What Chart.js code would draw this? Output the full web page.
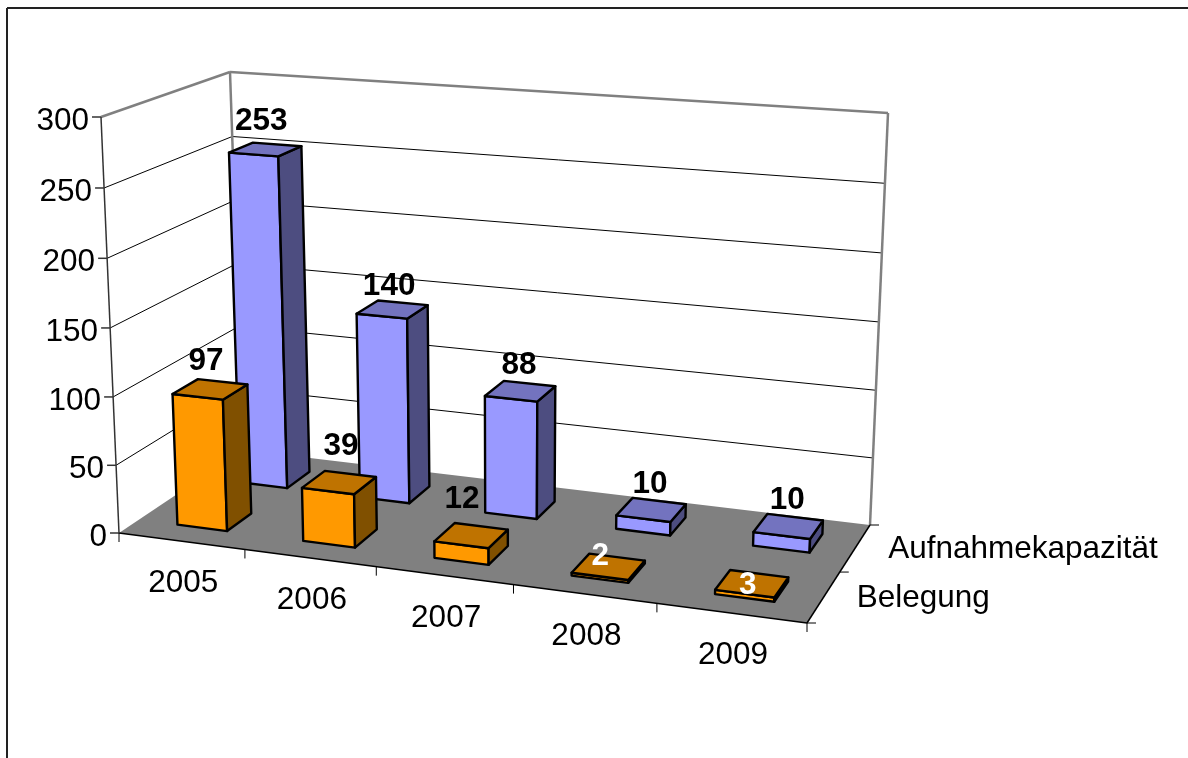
<!DOCTYPE html>
<html>
<head>
<meta charset="utf-8">
<title>Aufnahmekapazität und Belegung</title>
<script src="https://cdn.jsdelivr.net/npm/chart.js@4"></script>
<style>
  html, body { margin: 0; padding: 0; background: #fff; overflow: hidden; }
  canvas { display: block; }
</style>
</head>
<body>
<canvas id="chart" width="1188" height="758"></canvas>
<script>
// data
const years = ['2005', '2006', '2007', '2008', '2009'];
const belegung = [97, 39, 12, 2, 3];
const aufnahmekapazitaet = [253, 140, 88, 10, 10];
const yTicks = [0, 50, 100, 150, 200, 250, 300];

// label nudges in px (lift above the top face, sideways)
const liftBelegung = [19, 27, 27, 2, -10];
const nudgeBelegung = [-4, 2, -9, -8, -4];
const liftKapazitaet = [19, 14, 17, 17, 17];
const nudgeKapazitaet = [-4, -3, -1, -1, -1];

const FONT = '"Liberation Sans", Arial, sans-serif';
const TEXT_SIZE = 31.5;

// the plot box as it sits in the picture, [across][up][depth]
const box = {
  '000': [119, 533], '100': [807, 623], '010': [101, 117], '110': [820, 173],
  '001': [243, 450], '101': [870, 525], '011': [230, 72], '111': [888, 113]
};

function warp(t, a) {
  return a * t / (1 + (a - 1) * t);
}

// u across, v up, w into the picture, all 0..1
function project(u, v, w) {
  const a = warp(u, 0.896), b = warp(v, 0.972), c = warp(w, 1.083);
  const out = [0, 0];
  for (let i = 0; i < 2; i++) {
    const bottom = (box['000'][i] * (1 - a) + box['100'][i] * a) * (1 - c) + (box['001'][i] * (1 - a) + box['101'][i] * a) * c;
    const top = (box['010'][i] * (1 - a) + box['110'][i] * a) * (1 - c) + (box['011'][i] * (1 - a) + box['111'][i] * a) * c;
    out[i] = bottom * (1 - b) + top * b;
  }
  return out;
}

function line(ctx, a, b, color, width) {
  ctx.strokeStyle = color;
  ctx.lineWidth = width;
  ctx.beginPath();
  ctx.moveTo(a[0], a[1]);
  ctx.lineTo(b[0], b[1]);
  ctx.stroke();
}

function face(ctx, pts, fill) {
  ctx.fillStyle = fill;
  ctx.strokeStyle = '#000';
  ctx.lineWidth = 2.4;
  ctx.lineJoin = 'round';
  ctx.beginPath();
  pts.forEach((p, i) => i ? ctx.lineTo(p[0], p[1]) : ctx.moveTo(p[0], p[1]));
  ctx.closePath();
  ctx.fill();
  ctx.stroke();
}

function text(ctx, str, x, y, align, color, bold) {
  ctx.font = (bold ? 'bold ' : '') + TEXT_SIZE + 'px ' + FONT;
  ctx.textAlign = align;
  ctx.textBaseline = 'alphabetic';
  ctx.fillStyle = color;
  ctx.fillText(str, x, y);
}

const seriesStyle = [
  { w: 0.25, shift: 0.003, front: '#ff9900', top: '#bf7300', side: '#805000', lift: liftBelegung, nudge: nudgeBelegung },
  { w: 0.75, shift: 0.005, front: '#9999ff', top: '#7373bf', side: '#4d4d80', lift: liftKapazitaet, nudge: nudgeKapazitaet }
];
const BAR_DEPTH = 0.2;

const box3d = {
  id: 'box3d',
  beforeDatasetsDraw(chart) {
    const ctx = chart.ctx;
    const y = chart.scales.y;
    const area = chart.chartArea;
    const level = value => (area.bottom - y.getPixelForValue(value)) / area.height;

    // page frame
    line(ctx, [7, 8], [1188, 8], '#222', 2);
    line(ctx, [7, 8], [7, 758], '#222', 2);

    // grid on side wall and back wall
    y.ticks.forEach(tick => {
      if (tick.value === 0 || tick.value === y.max) return;
      const v = level(tick.value);
      ctx.lineCap = 'butt';
      line(ctx, project(0, v, 0), project(0, v, 1), '#000', 1);
      line(ctx, project(0, v, 1), project(1, v, 1), '#000', 1);
    });

    // wall outline
    line(ctx, project(0, 1, 0), project(0, 1, 1), '#808080', 2.5);
    line(ctx, project(0, 1, 1), project(1, 1, 1), '#808080', 2.5);
    line(ctx, project(0, 0, 1), project(0, 1, 1), '#808080', 2.5);
    line(ctx, project(1, 0, 1), project(1, 1, 1), '#808080', 2.5);

    // floor
    ctx.fillStyle = '#808080';
    ctx.beginPath();
    [[0, 0], [1, 0], [1, 1], [0, 1]].forEach((c, i) => {
      const p = project(c[0], 0, c[1]);
      if (i) ctx.lineTo(p[0], p[1]); else ctx.moveTo(p[0], p[1]);
    });
    ctx.closePath();
    ctx.fill();
    line(ctx, project(0, 0, 0), project(1, 0, 0), '#000', 1.5);
    line(ctx, project(1, 0, 0), project(1, 0, 1), '#000', 1.5);

    // value axis and its ticks
    line(ctx, project(0, 0, 0), project(0, 1, 0), '#333', 1.5);
    y.ticks.forEach(tick => {
      const p = project(0, level(tick.value), 0);
      line(ctx, [p[0] - 9, p[1]], p, '#333', 1.5);
      text(ctx, String(tick.value), p[0] - 12, p[1] + 13, 'right', '#000', false);
    });

    // category ticks and labels
    const n = years.length;
    for (let i = 0; i <= n; i++) {
      const p = project(i / n, 0, 0);
      line(ctx, p, [p[0], p[1] + 9], '#000', 1);
    }
    years.forEach((label, i) => {
      const p = project((i + 0.5) / n, 0, 0);
      text(ctx, label, p[0] + 2, p[1] + 51, 'center', '#000', false);
    });

    // depth ticks and series names
    [0, 0.5, 1].forEach(w => {
      const p = project(1, 0, w);
      line(ctx, p, [p[0] + 9, p[1]], '#000', 1);
    });
    chart.data.datasets.forEach((ds, d) => {
      const p = project(1, 0, seriesStyle[d].w);
      text(ctx, ds.label, p[0] + 33, p[1] + 10, 'left', '#000', false);
    });
  },
  afterDatasetsDraw(chart) {
    const ctx = chart.ctx;
    const area = chart.chartArea;
    const boxes = [];

    // back row first, the front row hides it
    for (let d = chart.data.datasets.length - 1; d >= 0; d--) {
      const s = seriesStyle[d];
      const w0 = s.w - BAR_DEPTH / 2, w1 = s.w + BAR_DEPTH / 2;
      chart.getDatasetMeta(d).data.forEach((el, i) => {
        const u0 = (el.x - el.width / 2 - area.left) / area.width + s.shift;
        const u1 = (el.x + el.width / 2 - area.left) / area.width + s.shift;
        const v = (area.bottom - el.y) / area.height;
        const a = project(u0, 0, w0), b = project(u1, 0, w0), c = project(u1, 0, w1);
        const e = project(u0, v, w0), f = project(u1, v, w0), g = project(u1, v, w1), h = project(u0, v, w1);
        face(ctx, [a, b, f, e], s.front);
        face(ctx, [b, c, g, f], s.side);
        face(ctx, [e, f, g, h], s.top);
        boxes.push({ x: (e[0] + g[0]) / 2 + s.nudge[i], y: (e[1] + g[1]) / 2 - s.lift[i], value: chart.data.datasets[d].data[i] });
      });
    }

    boxes.forEach(b => {
      text(ctx, String(b.value), b.x, b.y, 'center', b.value < 10 ? '#fff' : '#000', true);
    });
  }
};

new Chart(document.getElementById('chart'), {
  type: 'bar',
  data: {
    labels: years,
    datasets: [
      { label: 'Belegung', data: belegung, backgroundColor: 'rgba(0,0,0,0)', borderWidth: 0 },
      { label: 'Aufnahmekapazität', data: aufnahmekapazitaet, backgroundColor: 'rgba(0,0,0,0)', borderWidth: 0 }
    ]
  },
  options: {
    responsive: false,
    animation: false,
    devicePixelRatio: 1,
    grouped: false,
    barPercentage: 0.4,
    categoryPercentage: 1,
    layout: { padding: 0 },
    plugins: { legend: { display: false }, tooltip: { enabled: false }, title: { display: false } },
    scales: {
      x: { display: false },
      y: {
        display: false,
        min: yTicks[0],
        max: yTicks[yTicks.length - 1],
        ticks: { stepSize: yTicks[1] - yTicks[0] }
      }
    }
  },
  plugins: [box3d]
});
</script>
</body>
</html>
